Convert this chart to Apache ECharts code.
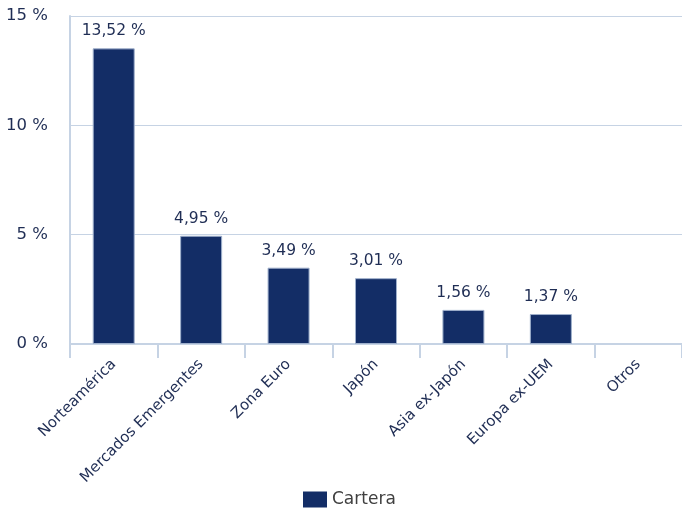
<!DOCTYPE html>
<html>
<head>
<meta charset="utf-8">
<script src="https://cdn.jsdelivr.net/npm/echarts@6/dist/echarts.min.js"></script>
<style>html,body{margin:0;padding:0;background:#fff}#c{width:682px;height:509px}</style>
</head>
<body>
<div id="c"></div>
<script>
const categories = ["Norteamérica", "Mercados Emergentes", "Zona Euro", "Japón", "Asia ex-Japón", "Europa ex-UEM", "Otros"];
const seriesName = "Cartera";
const values = [13.52, 4.95, 3.49, 3.01, 1.56, 1.37, null];
const yTicks = [0, 5, 10, 15];

const FONT = "DejaVu Sans";
const TXT = "#1f2d54";
const chart = echarts.init(document.getElementById('c'));
chart.setOption({
  animation: false,
  textStyle: { fontFamily: FONT },
  grid: { left: 70, right: 0, top: 16, bottom: 165, containLabel: false },
  legend: {
    top: 486, left: 298, icon: 'rect',
    itemWidth: 24, itemHeight: 16, itemGap: 10,
    itemStyle: { borderWidth: 0 },
    textStyle: { fontFamily: FONT, fontSize: 17, color: '#404040' },
    data: [seriesName]
  },
  xAxis: {
    type: 'category', data: categories,
    axisLine: { show: true, lineStyle: { color: '#c6d3e4', width: 2 } },
    axisTick: { show: true, length: 14, lineStyle: { color: '#c6d3e4', width: 2 } },
    axisLabel: { rotate: 45, fontSize: 15, color: TXT, fontFamily: FONT, margin: 18, interval: 0 }
  },
  yAxis: {
    type: 'value', min: yTicks[0], max: yTicks[yTicks.length - 1], interval: 5,
    axisLine: { show: true, lineStyle: { color: '#c6d3e4', width: 2 } },
    axisTick: { show: false },
    splitLine: { lineStyle: { color: '#c6d3e4', width: 1 } },
    axisLabel: { formatter: '{value} %', fontSize: 16.5, color: TXT, fontFamily: FONT, margin: 22 }
  },
  series: [{
    name: seriesName, type: 'bar', data: values, barWidth: 42,
    itemStyle: { color: '#132d66', borderColor: '#9fb0cc', borderWidth: 1 },
    label: {
      show: true, position: 'top', distance: 9, fontSize: 15.5, color: TXT, fontFamily: FONT,
      formatter: p => p.value == null ? '' : p.value.toFixed(2).replace('.', ',') + ' %'
    }
  }]
});
</script>
</body>
</html>
